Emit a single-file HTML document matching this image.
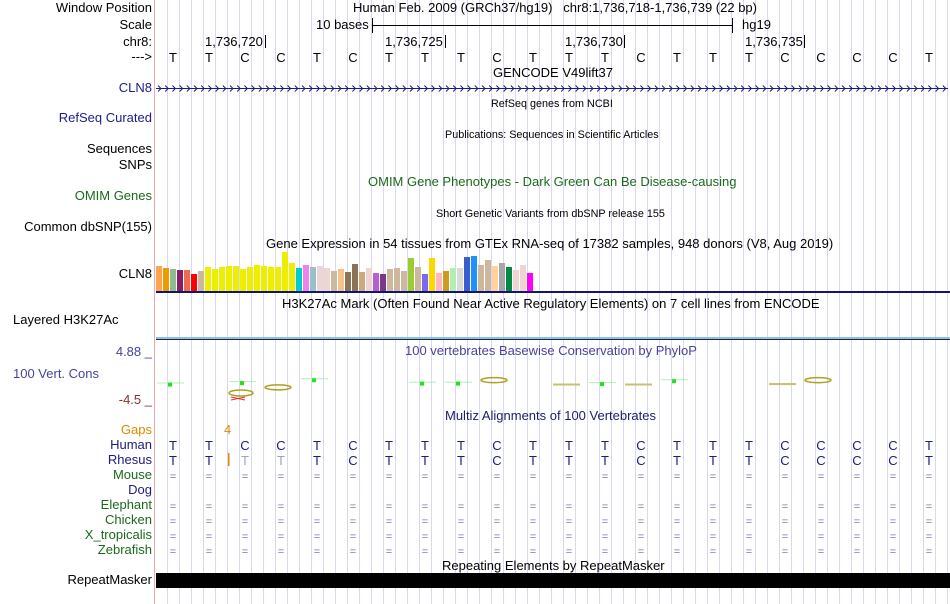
<!DOCTYPE html>
<html><head><meta charset="utf-8">
<style>
body{margin:0;background:#fff;width:950px;height:604px;overflow:hidden;font-family:"Liberation Sans",sans-serif;font-size:13px;}
#wrap{position:relative;width:950px;height:604px;}
.lbl{position:absolute;right:798px;white-space:nowrap;text-align:right;line-height:14px;}
.t{position:absolute;white-space:nowrap;line-height:14px;}
.s{font-size:10.8px;}
svg{position:absolute;left:0;top:0;}
</style></head><body>
<div id="wrap">
<svg id="gfx" width="950" height="604"></svg>

<div class="lbl" style="top:1px">Window Position</div>
<div class="lbl" style="top:18px">Scale</div>
<div class="lbl" style="top:35px">chr8:</div>
<div class="lbl" style="top:50px">---&gt;</div>
<div class="lbl" style="top:81px;color:#1c1c8c">CLN8</div>
<div class="lbl" style="top:111px;color:#1c1c8c">RefSeq Curated</div>
<div class="lbl" style="top:142px">Sequences</div>
<div class="lbl" style="top:158px">SNPs</div>
<div class="lbl" style="top:189px;color:#1a6a1a">OMIM Genes</div>
<div class="lbl" style="top:220px">Common dbSNP(155)</div>
<div class="lbl" style="top:267px">CLN8</div>
<div class="t" style="top:313px;left:13px">Layered H3K27Ac</div>
<div class="lbl" style="top:345px;color:#44449a">4.88 _</div>
<div class="t" style="top:367px;left:13px;color:#44449a">100 Vert. Cons</div>
<div class="lbl" style="top:393px;color:#8b3030">-4.5 _</div>
<div class="lbl" style="top:423px;color:#e08a00">Gaps</div>
<div class="lbl" style="top:438px;color:#1c1c7c">Human</div>
<div class="lbl" style="top:453px;color:#1c1c7c">Rhesus</div>
<div class="lbl" style="top:468px;color:#1a6a1a">Mouse</div>
<div class="lbl" style="top:483px;color:#1c1c7c">Dog</div>
<div class="lbl" style="top:498px;color:#1a6a1a">Elephant</div>
<div class="lbl" style="top:513px;color:#1a6a1a">Chicken</div>
<div class="lbl" style="top:528px;color:#1a6a1a">X_tropicalis</div>
<div class="lbl" style="top:543px;color:#1a6a1a">Zebrafish</div>
<div class="lbl" style="top:573px">RepeatMasker</div>

<div class="t" style="left:353px;top:1px">Human Feb. 2009 (GRCh37/hg19)&nbsp;&nbsp;&nbsp;chr8:1,736,718-1,736,739 (22 bp)</div>
<div class="t" style="left:316px;top:18px">10 bases</div>
<div class="t" style="left:742px;top:18px">hg19</div>
<div class="t" style="left:205px;top:35px">1,736,720</div>
<div class="t" style="left:385px;top:35px">1,736,725</div>
<div class="t" style="left:565px;top:35px">1,736,730</div>
<div class="t" style="left:745px;top:35px">1,736,735</div>
<div class="t" style="left:493px;top:66px">GENCODE V49lift37</div>
<div class="t s" style="left:491px;top:97px">RefSeq genes from NCBI</div>
<div class="t s" style="left:445px;top:128px">Publications: Sequences in Scientific Articles</div>
<div class="t" style="left:368px;top:175px;color:#1a6a1a">OMIM Gene Phenotypes - Dark Green Can Be Disease-causing</div>
<div class="t s" style="left:436px;top:207px">Short Genetic Variants from dbSNP release 155</div>
<div class="t" style="left:266px;top:237px">Gene Expression in 54 tissues from GTEx RNA-seq of 17382 samples, 948 donors (V8, Aug 2019)</div>
<div class="t" style="left:282px;top:297px">H3K27Ac Mark (Often Found Near Active Regulatory Elements) on 7 cell lines from ENCODE</div>
<div class="t" style="left:405px;top:344px;color:#44449a">100 vertebrates Basewise Conservation by PhyloP</div>
<div class="t" style="left:445px;top:409px;color:#1c1c6c">Multiz Alignments of 100 Vertebrates</div>
<div class="t" style="left:224px;top:423px;color:#e08a00">4</div>
<div class="t" style="left:442px;top:559px">Repeating Elements by RepeatMasker</div>
</div>
<script>
const bases=['T','T','C','C','T','C','T','T','T','C','T','T','T','C','T','T','T','C','C','C','C','T'];
const rhesus=['T','T','t','t','T','C','T','T','T','C','T','T','T','C','T','T','T','C','C','C','C','T'];
const gtexValues=[25,23,22,21,21,17,20,24,22,24,25,25,22,24,26,25,24,24,39,28,23,26,24,25,23,20,22,19,27,19,23,18,17,22,23,20,33,24,17,33,18,20,23,23,34,35,26,31,25,28,24,21,26,18];
const gtexColors=['#FFA54F','#EE9A00','#8FBC8F','#8B1C62','#EE6A50','#FF0000','#CDB79E','#EEEE00','#EEEE00','#EEEE00','#EEEE00','#EEEE00','#EEEE00','#EEEE00','#EEEE00','#EEEE00','#EEEE00','#EEEE00','#EEEE00','#EEEE00','#00CED1','#EE82EE','#9AC0CD','#EED5D2','#EED5D2','#CDB79E','#F4C28D','#8B7355','#8B7355','#CDAA7D','#EED5D2','#B460D0','#7A378B','#CDB79E','#CDB79E','#CDB79E','#9ACD32','#CDB79E','#7B68EE','#FFD700','#FFB6C1','#CD9B1D','#B4EEB4','#D9D9D9','#3A5FCD','#1E90FF','#CDB79E','#CDB79E','#FFD39B','#A6A6A6','#008B45','#EED5D2','#EED5D2','#FF00FF'];
// conservation items: base index, phyloP score, kind
const consBase=[0,2,3,4,7,8,9,11,12,13,14,17,18];
const consScore=[0.3,0.6,-0.7,1.2,0.5,0.5,0.8,0.1,0.4,0.1,1.0,0.2,0.8];
const consKind=['g','g','o','g','g','g','o','l','g','l','g','l','o'];
const NS='http://www.w3.org/2000/svg';
const svg=document.getElementById('gfx');
const X0=156,BW=36;
const bx=i=>X0+BW*i;
const consY=v=>384-v*1.2*4;
function el(tag,attrs,parent){const e=document.createElementNS(NS,tag);for(const k in attrs)e.setAttribute(k,attrs[k]);(parent||svg).appendChild(e);return e;}
for(let x=167;x<950;x+=12){const l=el('line',{x1:x+0.5,y1:0,x2:x+0.5,y2:604,stroke:'#d8d8f4','stroke-width':1});

}
const pk=el('line',{x1:154.5,y1:0,x2:154.5,y2:604,stroke:'#f4a8a8'});


el('line',{x1:372,y1:25.5,x2:732,y2:25.5,stroke:'#000'});
el('line',{x1:372.5,y1:18,x2:372.5,y2:33,stroke:'#000'});
el('line',{x1:732.5,y1:18,x2:732.5,y2:33,stroke:'#000'});
[265,445,624,804].forEach(x=>{const t=el('line',{x1:x+0.5,y1:35,x2:x+0.5,y2:48,stroke:'#000'});

});
function txt(x,y,s,fill){const t=el('text',{x:x,y:y,'text-anchor':'middle','font-family':'Liberation Sans, sans-serif','font-size':13,fill:fill});t.textContent=s;return t;}
bases.forEach((b,i)=>{const t=txt(bx(i)+17,62,b,'#000');


const h=txt(bx(i)+17,450,b,'#1c1c7c');


const r=rhesus[i];const rt=txt(bx(i)+17,465,r.toUpperCase(),r===r.toLowerCase()?'#a0a0c0':'#1c1c7c');


[480,510,525,540,555].forEach(y=>{const q=txt(bx(i)+17,y,'=','#7a7ab0');q.setAttribute('font-size',11);

});});
const gl=el('line',{x1:156,y1:88.5,x2:948,y2:88.5,stroke:'#1c1c7c'});


let d='';for(let x=158;x<946;x+=7.2){d+=`M${x.toFixed(1)},85.5 L${(x+3).toFixed(1)},88.5 L${x.toFixed(1)},91.5 `;}
el('path',{d:d,stroke:'#1c1c7c',fill:'none','stroke-width':1});
const gtexBase=291,gtexScale=1;
gtexValues.forEach((v,i)=>{const r=el('rect',{x:156+7*i,y:gtexBase-v*gtexScale,width:6,height:v*gtexScale,fill:gtexColors[i]});

});
el('rect',{x:156,y:291,width:794,height:2,fill:'#14146e'});
el('rect',{x:156,y:337,width:794,height:2,fill:'#7ec8ee'});
el('rect',{x:156,y:339,width:794,height:1,fill:'#3a1a3a'});
consBase.forEach((b,i)=>{const x=bx(b)+1,y=consY(consScore[i]),k=consKind[i];
const g=el('g',{});


if(k==='g'){el('line',{x1:x,y1:y+0.5,x2:x+27,y2:y+0.5,stroke:'#b0f0b0'},g);el('rect',{x:x+11,y:y,width:4,height:4,fill:'#22e022'},g);}
else if(k==='o'){el('ellipse',{cx:x+13,cy:y,rx:13,ry:2.5,fill:'none',stroke:'#b0a020','stroke-width':1.5},g);}
else{el('rect',{x:x,y:y,width:27,height:2,fill:'#c8c070'},g);}
});
el('ellipse',{cx:bx(2)+13,cy:393,rx:12,ry:3,fill:'none',stroke:'#b0a020','stroke-width':1.5});
el('path',{d:`M${bx(2)+3},397 L${bx(2)+17},400 M${bx(2)+3},400 L${bx(2)+17},397`,stroke:'#ee3030','stroke-width':1});
el('rect',{x:228,y:453,width:1.5,height:13,fill:'#e08a00'});
const rm=el('rect',{x:156,y:573,width:794,height:15,fill:'#000'});


</script>
</body></html>
